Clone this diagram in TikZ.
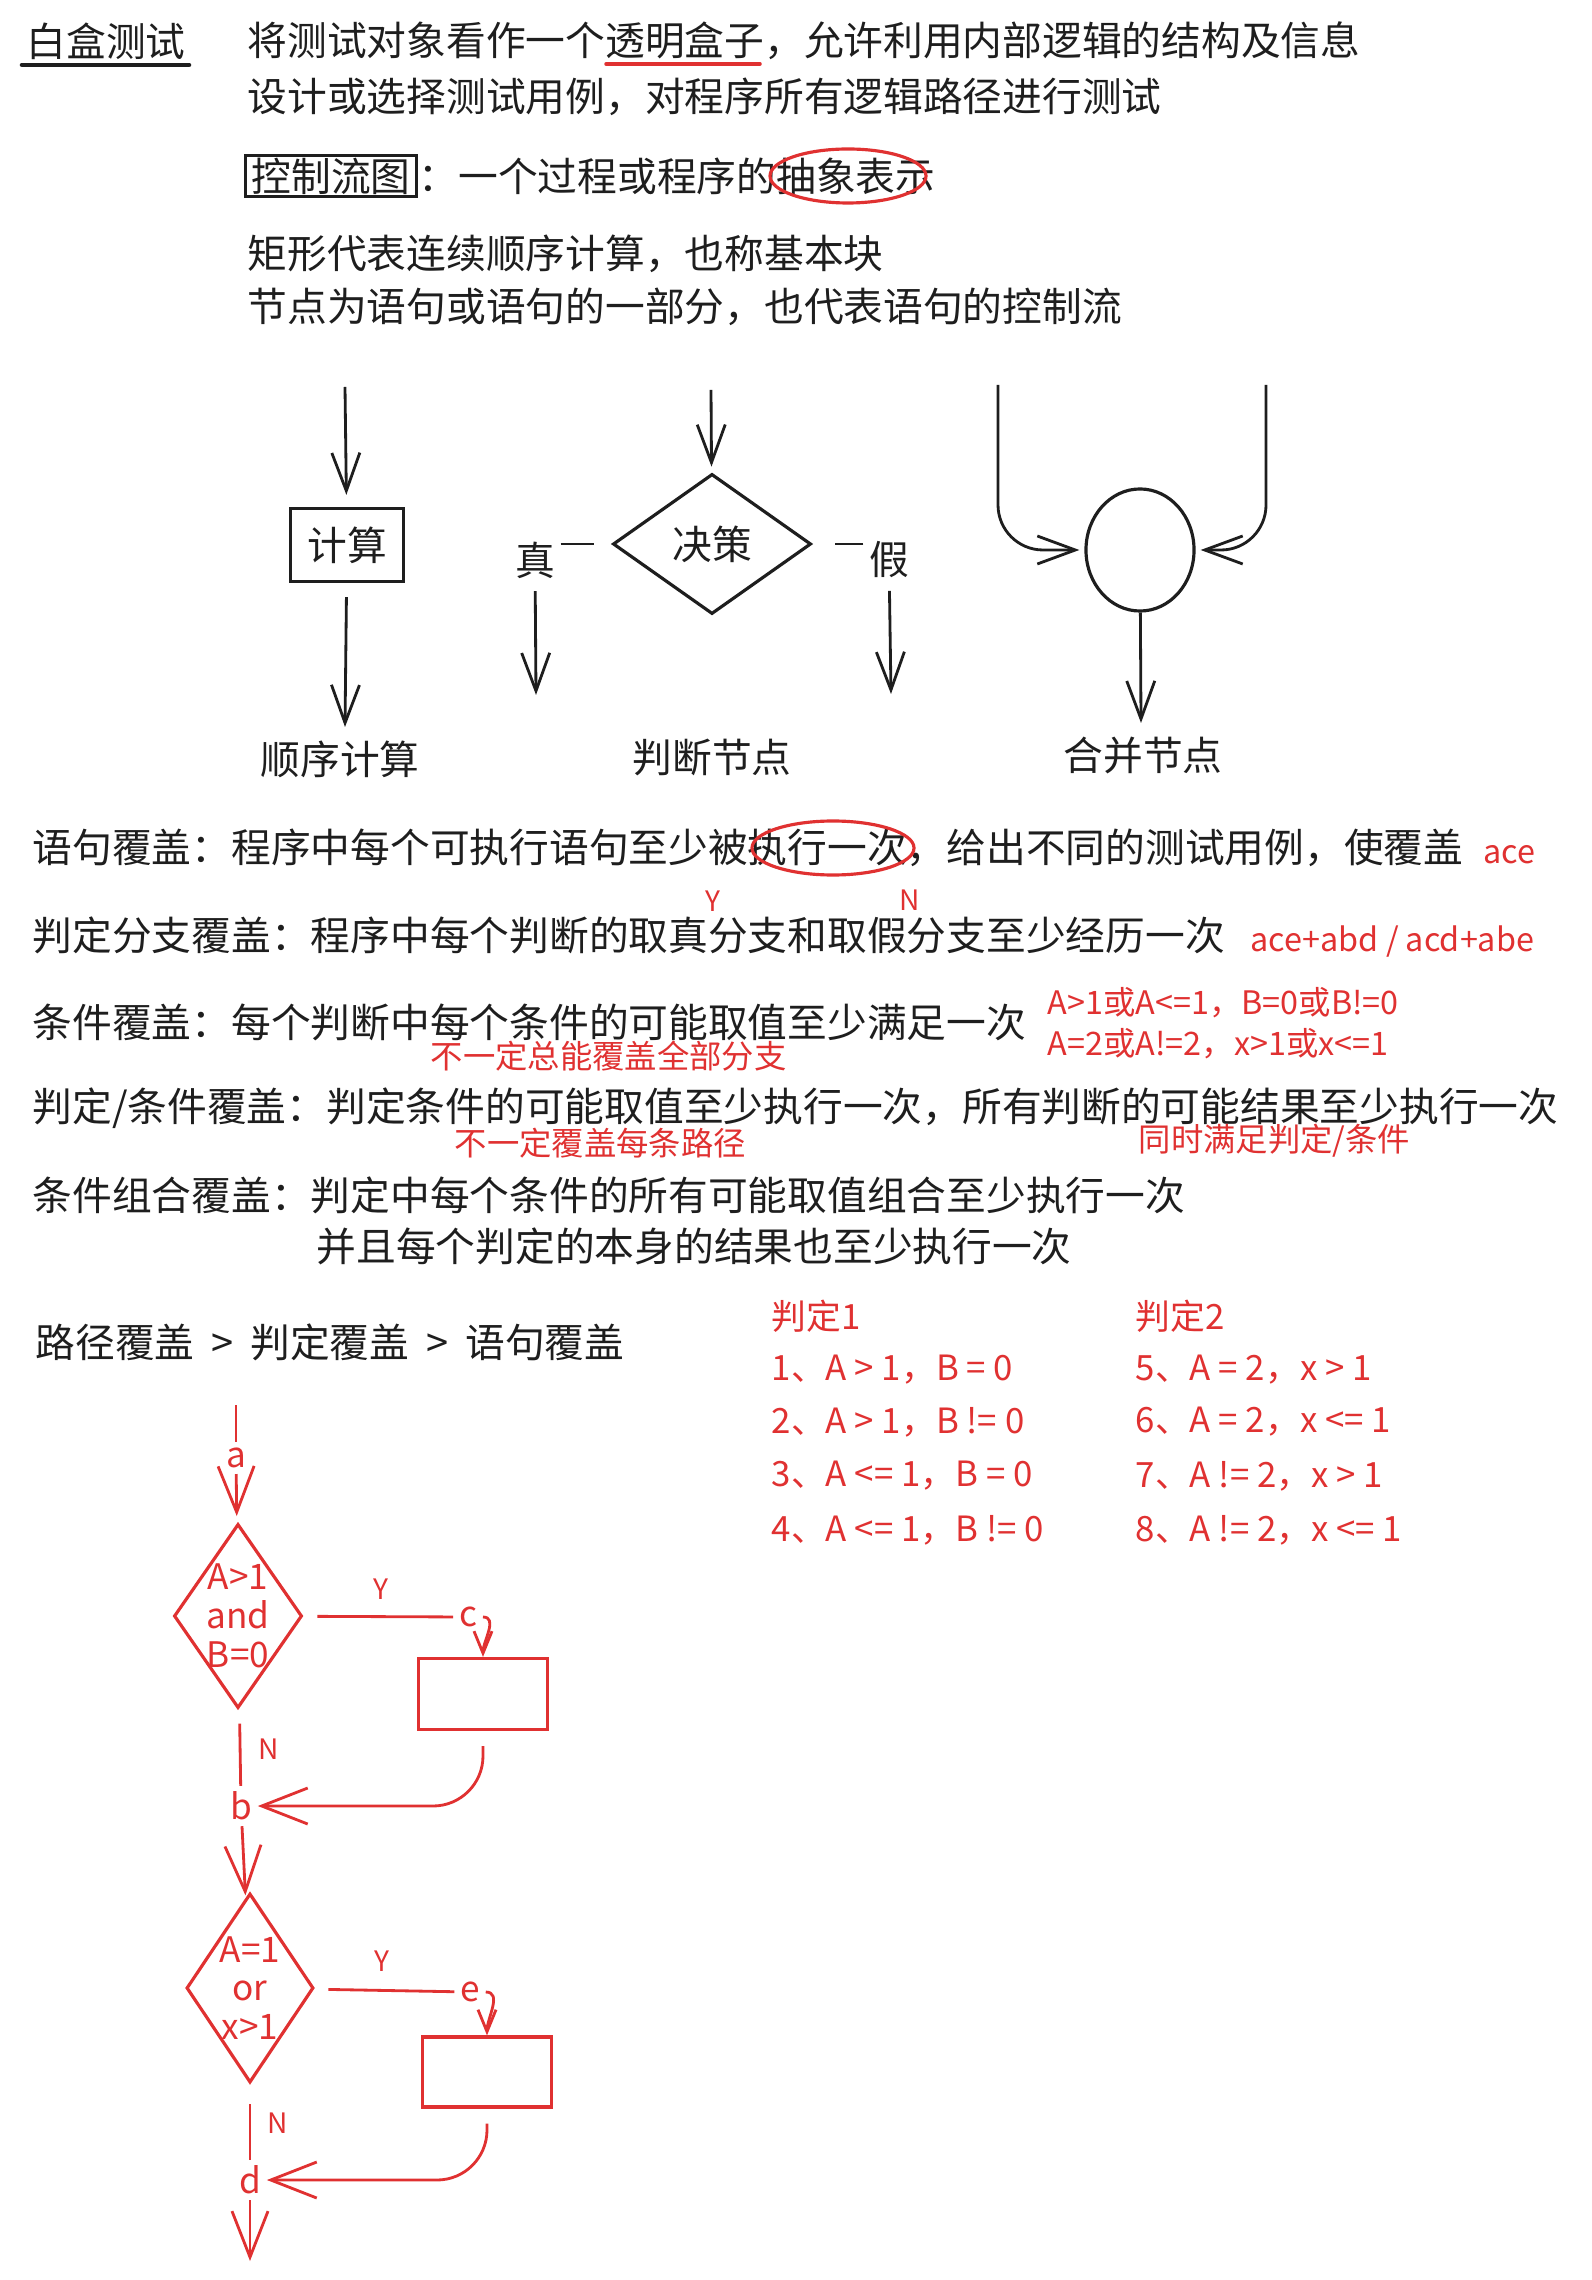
\documentclass[tikz,border=0pt]{standalone}
\usepackage{fontspec}
\setmainfont{Noto Sans CJK SC}
\usetikzlibrary{arrows.meta,shapes.geometric}
\definecolor{ink}{HTML}{1E1E1E}
\definecolor{pen}{HTML}{E03131}

\begin{document}
\begin{tikzpicture}[x=0.01cm,y=-0.01cm,
    txt/.style={anchor=west,inner sep=0pt,text=ink,font=\fontsize{11.3}{13}\selectfont},
    lbl/.style={inner sep=0pt,text=ink,font=\fontsize{11.3}{13}\selectfont},
    note/.style={anchor=west,inner sep=0pt,text=pen,font=\fontsize{9.2}{11}\selectfont},
    item/.style={anchor=west,inner sep=0pt,text=pen,font=\fontsize{9.9}{11}\selectfont},
    tag/.style={inner sep=1.5pt,text=pen,font=\fontsize{10}{11}\selectfont},
    yn/.style={inner sep=0pt,text=pen,font=\fontsize{8}{10}\selectfont},
    flow/.style={-{Straight Barb[length=3.8mm,width=2.8mm]},ink,line width=0.8pt},
    rflow/.style={-{Straight Barb[length=4.6mm,width=3.6mm]},pen,line width=0.8pt},
    rtick/.style={-{Straight Barb[length=2.2mm,width=1.8mm]},pen,line width=0.8pt},
    rline/.style={pen,line width=0.8pt}]

  \useasboundingbox (0,0) rectangle (1592,2280);

  % Heading and what white-box testing means.
  \node[txt] (hdr) at (26,41) {白盒测试};
  \draw[ink,line width=1.3pt,line cap=round] (22,65) -- (189,65);
  \node[txt] (lineone) at (247,41) {将测试对象看作一个透明盒子，允许利用内部逻辑的结构及信息};
  \draw[pen,line width=1pt,line cap=round] (606,64) -- (760,64);
  \node[txt] (linetwo) at (247,97) {设计或选择测试用例，对程序所有逻辑路径进行测试};

  \node[txt,draw=ink,line width=0.9pt,inner xsep=0.06cm,inner ysep=0.02cm] (ctrl) at (244,176) {控制流图};
  \node[txt] (ctrldef) at (418,176) {：一个过程或程序的抽象表示};
  \draw[pen,line width=0.9pt] (848,176) ellipse [x radius=78, y radius=27];

  \node[txt] (rectdef) at (247,254) {矩形代表连续顺序计算，也称基本块};
  \node[txt] (nodedef) at (247,307) {节点为语句或语句的一部分，也代表语句的控制流};

  % The three kinds of flow graph node.
  \coordinate (seqin) at (345,387);
  \coordinate (seqout) at (345,727);
  \node[lbl,draw=ink,line width=0.9pt,minimum width=1.13cm,minimum height=0.73cm] (comp) at (347,545) {计算};
  \draw[flow,shorten >=0.12cm] (seqin) -- (comp);
  \draw[flow,shorten <=0.14cm] (comp) -- (seqout);
  \node[lbl] (seqlbl) at (340,759) {顺序计算};

  \coordinate (decin) at (711,390);
  \node[lbl,diamond,draw=ink,line width=0.9pt,minimum width=1.98cm,minimum height=1.40cm] (dec) at (712,544) {决策};
  \draw[flow,shorten >=0.06cm] (decin) -- (dec);
  \node[lbl] (tru) at (535,560) {真};
  \node[lbl] (fls) at (889,560) {假};
  \draw[ink,line width=0.8pt,shorten <=0.05cm,shorten >=0.17cm] (tru.east |- dec.west) -- (dec.west);
  \draw[ink,line width=0.8pt,shorten <=0.05cm,shorten >=0.22cm] (fls.west |- dec.east) -- (dec.east);
  \coordinate (truout) at (536,695);
  \coordinate (flsout) at (891,694);
  \draw[flow,shorten <=0.12cm] (tru) -- (truout);
  \draw[flow,shorten <=0.12cm] (fls) -- (flsout);
  \node[lbl] (declbl) at (712,757) {判断节点};

  \node[ellipse,draw=ink,line width=0.9pt,minimum width=1.08cm,minimum height=1.22cm,inner sep=0pt] (mrg) at (1140,550) {};
  \coordinate (mrgl) at (998,385);
  \coordinate (mrgr) at (1266,385);
  \coordinate (mrgout) at (1141,723);
  \draw[flow,rounded corners=0.45cm,shorten >=0.05cm] (mrgl) |- (mrg.west);
  \draw[flow,rounded corners=0.45cm,shorten >=0.05cm] (mrgr) |- (mrg.east);
  \draw[flow] (mrg) -- (mrgout);
  \node[lbl] (mrglbl) at (1143,755) {合并节点};

  % Coverage criteria, weakest first.
  \node[txt] (stmt) at (32,848) {语句覆盖：程序中每个可执行语句至少被执行一次，给出不同的测试用例，使覆盖};
  \node[note] (stmtpath) at (1483,855) {ace};
  \draw[pen,line width=0.9pt] (833,848) ellipse [x radius=81, y radius=27];
  \node[yn] (ytag) at (713,901) {Y};
  \node[yn] (ntag) at (910,900) {N};

  \node[txt] (branch) at (32,935) {判定分支覆盖：程序中每个判断的取真分支和取假分支至少经历一次};
  \node[note] (branchpath) at (1250,942) {ace+abd / acd+abe};

  \node[txt] (cond) at (32,1022) {条件覆盖：每个判断中每个条件的可能取值至少满足一次};
  \node[note] (condone) at (1047,1003) {A>1或A<=1，B=0或B!=0};
  \node[note] (condtwo) at (1047,1044) {A=2或A!=2，x>1或x<=1};
  \node[note] (condwarn) at (430,1056) {不一定总能覆盖全部分支};

  \node[txt] (bcond) at (32,1108) {判定/条件覆盖：判定条件的可能取值至少执行一次，所有判断的可能结果至少执行一次};
  \node[note] (bcondwarn) at (454,1143) {不一定覆盖每条路径};
  \node[note] (bcondboth) at (1138,1141) {同时满足判定/条件};

  \node[txt] (combo) at (32,1195) {条件组合覆盖：判定中每个条件的所有可能取值组合至少执行一次};
  \node[txt] (combotwo) at (316,1246) {并且每个判定的本身的结果也至少执行一次};

  \node[txt] (order) at (35,1342) {路径覆盖\hspace{0.08cm} > \hspace{0.08cm}判定覆盖\hspace{0.08cm} > \hspace{0.08cm}语句覆盖};

  % Condition values for the two decisions.
  \node[item] (dtone) at (771,1316) {判定1};
  \node[item] (rowone) at (771,1370) {1、A > 1，B = 0};
  \node[item] (rowtwo) at (771,1422) {2、A > 1，B != 0};
  \node[item] (rowthree) at (771,1476) {3、A <= 1，B = 0};
  \node[item] (rowfour) at (771,1530) {4、A <= 1，B != 0};
  \node[item] (dttwo) at (1135,1316) {判定2};
  \node[item] (rowfive) at (1135,1370) {5、A = 2，x > 1};
  \node[item] (rowsix) at (1135,1422) {6、A = 2，x <= 1};
  \node[item] (rowseven) at (1135,1476) {7、A != 2，x > 1};
  \node[item] (roweight) at (1135,1530) {8、A != 2，x <= 1};

  % The example program: two decisions in a row.
  \coordinate (entry) at (236,1405);
  \node[tag] (na) at (236,1458) {a};
  \draw[rline] (entry) -- (na);
  \node[diamond,draw=pen,line width=0.9pt,minimum width=1.28cm,minimum height=1.84cm,inner sep=0pt] (dA) at (238,1616) {};
  \node[tag,inner sep=0pt,align=center] (dAtxt) at (dA) {A>1\\and\\B=0};
  \draw[rflow,shorten >=0.08cm] (na) -- (dA);

  \node[tag] (nc) at (468,1617) {c};
  \node[yn] (yA) at (381,1589) {Y};
  \draw[rline,shorten <=0.14cm] (dA) -- (nc);
  \node[draw=pen,line width=0.9pt,minimum width=1.29cm,minimum height=0.71cm] (bA) at (483,1694) {};
  \draw[rtick] (nc.east) to[out=0,in=90] (bA.north);

  \node[tag] (nb) at (241,1806) {b};
  \node[yn] (nA) at (269,1749) {N};
  \draw[rline,shorten <=0.16cm] (dA) -- (nb);
  \draw[rflow,rounded corners=0.5cm,shorten <=0.15cm] (bA.south) |- (nb);

  \node[diamond,draw=pen,line width=0.9pt,minimum width=1.27cm,minimum height=1.89cm,inner sep=0pt] (dB) at (250,1988) {};
  \node[tag,inner sep=0pt,align=center] (dBtxt) at (dB) {A=1\\or\\x>1};
  \draw[rflow,shorten >=0.03cm] (nb) -- (dB);

  \node[tag] (ne) at (470,1992) {e};
  \node[yn] (yB) at (382,1961) {Y};
  \draw[rline,shorten <=0.14cm] (dB) -- (ne);
  \node[draw=pen,line width=0.9pt,minimum width=1.29cm,minimum height=0.70cm] (bB) at (487,2072) {};
  \draw[rtick] (ne.east) to[out=0,in=90] (bB.north);

  \node[tag] (nd) at (250,2180) {d};
  \node[yn] (nB) at (278,2123) {N};
  \draw[rline,shorten <=0.2cm] (dB) -- (nd);
  \draw[rflow,rounded corners=0.5cm,shorten <=0.15cm] (bB.south) |- (nd);
  \coordinate (exit) at (250,2261);
  \draw[rflow] (nd) -- (exit);
\end{tikzpicture}
\end{document}
